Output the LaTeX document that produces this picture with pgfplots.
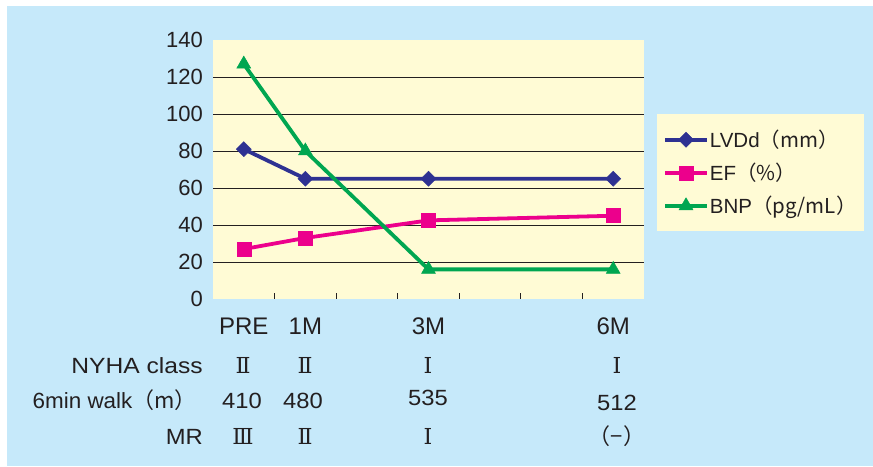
\documentclass[border=0pt]{standalone}
\usepackage{pgfplots}
\pgfplotsset{compat=1.18}
\usepackage{pgfplotstable}
\usepackage{graphicx}
\usepackage{fontspec}
\setmainfont{Liberation Sans}
\newfontfamily\cjk{Noto Sans CJK JP}
\newfontfamily\romanfont{DejaVu Serif}

\definecolor{bgblue}{HTML}{C6E9FA}
\definecolor{plotyellow}{HTML}{FFFBD5}
\definecolor{lvddcol}{HTML}{2E3192}
\definecolor{efcol}{HTML}{EC008C}
\definecolor{bnpcol}{HTML}{00A651}
\definecolor{ink}{HTML}{231F20}

% follow-up measurements; x = slot on the time axis
\pgfplotstableread{
x    lvdd  ef    bnp
0.5  81    27    127
1.5  65    33    80
3.5  65    42.5  16
6.5  65    45    16
}\followup

\newcommand{\rn}[1]{{\romanfont #1}}
\newcommand{\wide}[2][1.08]{\scalebox{#1}[1]{#2}}

\begin{document}
\begin{tikzpicture}[x=1pt,y=1pt,font=\fontsize{22}{26}\selectfont,color=ink]
\path[use as bounding box] (0,0) rectangle (873,466);
\fill[white] (0,0) rectangle (873,466);
\fill[bgblue] (7,0) rectangle (873,460);

\begin{axis}[
  at={(213pt,167pt)}, anchor=south west,
  scale only axis, width=431pt, height=259pt,
  xmin=0, xmax=7, ymin=0, ymax=140,
  axis line style={draw=none},
  axis background/.style={fill=plotyellow},
  xtick pos=bottom, ytick pos=left,
  ytick={20,40,...,120},
  extra y ticks={0,140},
  extra y tick style={grid=none},
  ymajorgrids, grid style={ink, line width=0.9pt},
  ytick style={draw=none},
  yticklabel style={font=\fontsize{22}{26}\selectfont, inner sep=0pt, xshift=-10pt},
  xtick={1,...,6}, xticklabels={},
  tick align=inside, major tick length=6pt,
  xtick style={ink, line width=0.8pt},
  extra x ticks={0.5,1.5,3.5,6.5},
  extra x tick labels={PRE,1M,3M,6M},
  extra x tick style={major tick length=0pt,
    xticklabel style={anchor=base, inner sep=0pt, yshift=-36pt,
      font=\fontsize{24}{28}\selectfont}},
  /pgf/number format/assume math mode=true,
  legend style={at={(1.030,0.714)}, anchor=north west, draw=none,
    fill=plotyellow, inner xsep=6pt, inner ysep=12pt,
    font=\fontsize{20.5}{24}\selectfont, row sep=6pt,
    nodes={inner sep=1pt, text height=20pt, text depth=5pt},
    cells={anchor=west}},
  legend image code/.code={%
    \draw[mark repeat=2,mark phase=2,#1]
      plot coordinates {(0pt,0pt) (21pt,0pt) (42pt,0pt)};},
]
\addplot[lvddcol, line width=3.8pt, mark=square*, mark size=5.3pt,
  mark options={rotate=45, line width=0.5pt}]
  table[x=x, y=lvdd] {\followup};
\addlegendentry{LVDd\cjk{（}mm\cjk{）}}
\addplot[efcol, line width=3.8pt, mark=square*, mark size=7pt,
  mark options={line width=0.5pt}]
  table[x=x, y=ef] {\followup};
\addlegendentry{EF\cjk{（}\%\cjk{）}}
\addplot[bnpcol, line width=3.8pt, mark=triangle*, mark size=8pt,
  mark options={line width=0.5pt}]
  table[x=x, y=bnp] {\followup};
\addlegendentry{BNP\cjk{（}pg/mL\cjk{）}}
\end{axis}

% clinical status rows under the time axis
\node[anchor=base east, inner sep=0pt] at (203,92) {\wide[1.12]{NYHA class}};
\node[anchor=base east, inner sep=0pt] at (197,57) {\wide[1.02]{6min walk}\cjk{（}m\cjk{）}};
\node[anchor=base east, inner sep=0pt] at (203,22) {\wide{MR}};

\node[anchor=base, inner sep=0pt] at (243,92) {\rn{Ⅱ}};
\node[anchor=base, inner sep=0pt] at (305,92) {\rn{Ⅱ}};
\node[anchor=base, inner sep=0pt] at (428,92) {\rn{Ⅰ}};
\node[anchor=base, inner sep=0pt] at (617,92) {\rn{Ⅰ}};

\node[anchor=base, inner sep=0pt] at (242,57) {\wide{410}};
\node[anchor=base, inner sep=0pt] at (303,57) {\wide{480}};
\node[anchor=base, inner sep=0pt] at (428,60) {\wide{535}};
\node[anchor=base, inner sep=0pt] at (617,56) {\wide{512}};

\node[anchor=base, inner sep=0pt] at (243,22) {\rn{Ⅲ}};
\node[anchor=base, inner sep=0pt] at (305,22) {\rn{Ⅱ}};
\node[anchor=base, inner sep=0pt] at (428,22) {\rn{Ⅰ}};
\node[anchor=base, inner sep=0pt] at (617,22) {\cjk{（}−\cjk{）}};
\end{tikzpicture}
\end{document}
